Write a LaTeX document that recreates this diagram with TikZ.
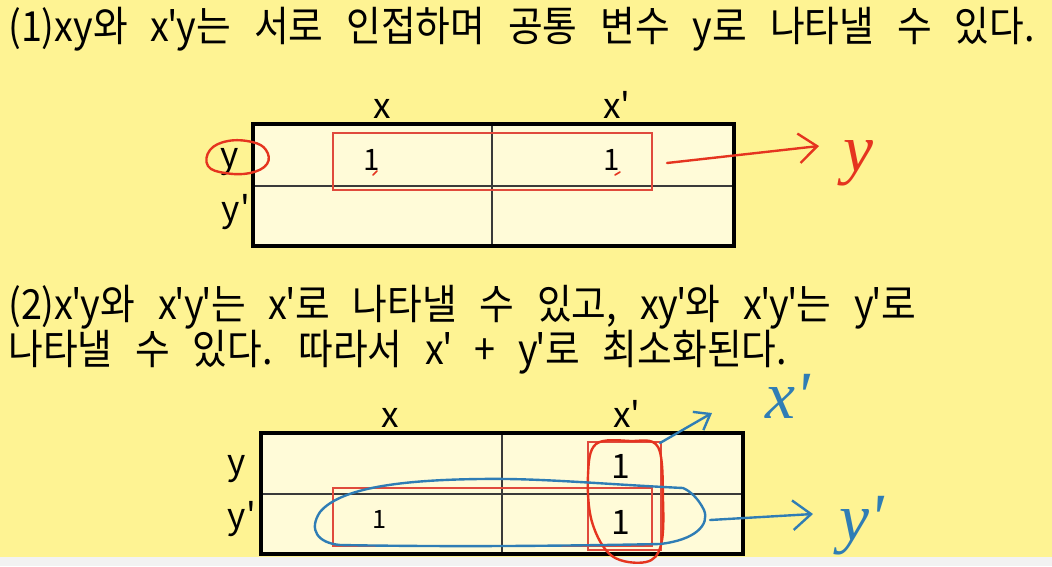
\documentclass[tikz,border=0pt]{standalone}
\usepackage{fontspec}
\setmainfont{Noto Sans CJK KR}
\newfontfamily\headfont{Noto Sans CJK KR}[FakeStretch=0.91, WordSpace=2.7]
\newfontfamily\handfont{Liberation Serif}
\usetikzlibrary{arrows.meta}

\definecolor{bgyellow}{HTML}{FEF393}
\definecolor{cellyellow}{HTML}{FFFBD8}
\definecolor{penred}{HTML}{E5341F}
\definecolor{boxred}{HTML}{E04A3C}
\definecolor{penblue}{HTML}{2F7DB5}
\definecolor{gridgray}{HTML}{3A3A3A}
\newcommand{\pr}{\kern-0.05em\textquotesingle\kern-0.05em}
\newcommand{\lpr}{\textquotesingle}

\begin{document}
\begin{tikzpicture}[x=0.025cm,y=-0.025cm]
\useasboundingbox (0,0) rectangle (1052,566);
\fill[bgyellow] (0,0) rectangle (1052,557);
\fill[black!5] (0,557) rectangle (1052,566);

\begin{scope}
    [
        titletext/.style = {anchor=base west, inner sep=0pt, font=\headfont\fontsize{29.5}{34}\selectfont},
        axislabel/.style = {anchor=base, inner sep=0pt, font=\fontsize{25}{28}\selectfont},
        kmapframe/.style = {draw=black, line width=2.8pt},
        kmapgrid/.style  = {draw=gridgray, line width=1pt}
    ]
    % text
    \node(q1)[titletext] at (8,41) {(1)xy와 x\pr y는 서로 인접하며 공통 변수 y로 나타낼 수 있다.};
    \node(q2)[titletext] at (8,319) {(2)x\pr y와 x\pr y\pr 는 x\pr 로 나타낼 수 있고, xy\pr 와 x\pr y\pr 는 y\pr 로};
    \node(q3)[titletext] at (8,364) {나타낼 수 있다. 따라서 x\pr\ + y\pr 로 최소화된다.};

    % first map
    \fill[cellyellow] (253,124) rectangle (734,246);
    \draw[kmapgrid] (492,124) -- (492,246) (253,186) -- (734,186);
    \draw[kmapframe] (253,124) rectangle (734,246);
    \node(ax)[axislabel] at (382,118) {x};
    \node(axx)[axislabel] at (617,118) {x\lpr};
    \node(ay)[axislabel] at (230,167) {y};
    \node(ayy)[axislabel] at (236,221) {y\lpr};
    \node(a1)[axislabel, font=\fontsize{21}{24}\selectfont] at (372,170) {1};
    \node(a2)[axislabel, font=\fontsize{21}{24}\selectfont] at (612,170) {1};

    % second map
    \fill[cellyellow] (261,433) rectangle (743,554);
    \draw[kmapgrid] (502,433) -- (502,554) (261,494) -- (743,494);
    \draw[kmapframe] (261,433) rectangle (743,554);
    \node(bx)[axislabel] at (390,427) {x};
    \node(bxx)[axislabel] at (627,427) {x\lpr};
    \node(by)[axislabel] at (237,474) {y};
    \node(byy)[axislabel] at (242,528) {y\lpr};
    \node(b1)[axislabel, font=\fontsize{24}{27}\selectfont] at (621,478) {1};
    \node(b2)[axislabel, font=\fontsize{24}{27}\selectfont] at (621,534) {1};
    \node(b3)[axislabel, font=\fontsize{18}{21}\selectfont] at (380,528) {1};
\end{scope}

\begin{scope}
    [
        boxpen/.style = {draw=boxred, line width=1pt},
        redpen/.style = {draw=penred, line width=1.7pt, line cap=round, line join=round},
        bluepen/.style = {draw=penblue, line width=1.7pt, line cap=round, line join=round},
        handnote/.style = {font=\handfont\itshape\fontsize{48}{48}\selectfont, inner sep=0pt},
        bighead/.style = {-{Straight Barb[length=13pt, width=21pt, line width=1.7pt]}},
        smallhead/.style = {-{Straight Barb[length=10pt, width=15pt, line width=1.7pt]}}
    ]
    % groups
    \draw[boxpen] (333,133) rectangle (652,190);
    \draw[boxpen] (333,488) rectangle (652,546);
    \draw[boxpen] (588,442) rectangle (661,550);

    % marks
    \draw[redpen] plot[smooth cycle, tension=0.7] coordinates
        {(210,150) (228,141) (252,142) (266,150) (267,164) (250,173) (225,173) (208,166)};
    \draw[redpen, line width=1.2pt] (373,175) -- (377,171) (615,175) -- (620,172);
    \draw[redpen] plot[smooth cycle, tension=0.6] coordinates
        {(596,444) (630,441) (658,447) (663,500) (661,545) (646,562) (612,556) (592,522) (588,475)};
    \draw[bluepen] (683,488) .. controls (600,484) and (540,478) .. (480,479)
        .. controls (400,480) and (340,488) .. (320,512)
        .. controls (308,530) and (318,543) .. (340,545)
        .. controls (450,547) and (560,546) .. (660,544)
        .. controls (695,540) and (710,525) .. (704,510)
        .. controls (698,498) and (690,491) .. (683,488);

    % notes
    \node(ny)[handnote, text=penred] at (858,163) {y};
    \node(nx)[handnote, text=penblue] at (788,396) {x\lpr};
    \node(nyy)[handnote, text=penblue] at (862,526) {y\lpr};
    \coordinate(ra) at (667,163);
    \coordinate(rb) at (819,146);
    \coordinate(xa) at (660,443);
    \coordinate(xb) at (712,413);
    \coordinate(ya) at (710,520);
    \coordinate(yb) at (813,514);
    \draw[redpen, bighead] (ra) -- (rb);
    \draw[bluepen, smallhead] (xa) -- (xb);
    \draw[bluepen, bighead] (ya) -- (yb);
\end{scope}
\end{tikzpicture}
\end{document}
